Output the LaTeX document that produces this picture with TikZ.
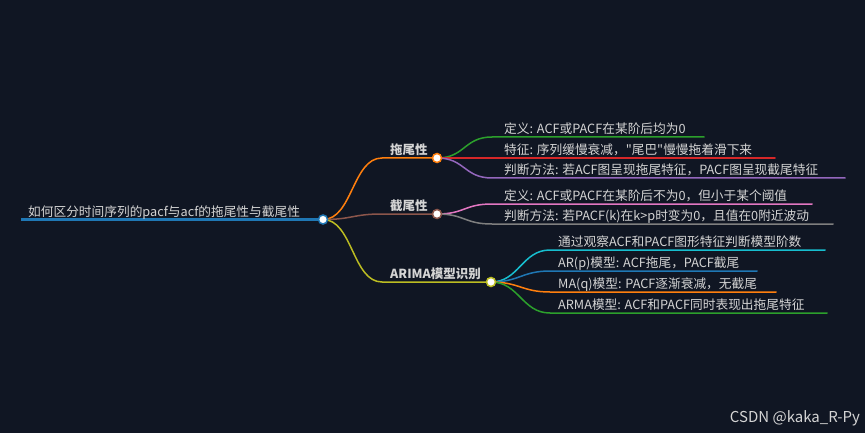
\documentclass[tikz,border=0pt]{standalone}
\usepackage{fontspec}
\setmainfont{Noto Sans CJK SC}[Ligatures=TeXOff]
\definecolor{bgnavy}{RGB}{16,22,35}
\definecolor{mtext}{RGB}{212,212,212}
\definecolor{cblue}{RGB}{31,119,180}
\definecolor{corange}{RGB}{255,127,14}
\definecolor{cgreen}{RGB}{44,160,44}
\definecolor{cred}{RGB}{214,39,40}
\definecolor{cpurple}{RGB}{148,103,189}
\definecolor{cbrown}{RGB}{140,86,75}
\definecolor{cpink}{RGB}{227,119,194}
\definecolor{cgray}{RGB}{127,127,127}
\definecolor{colive}{RGB}{188,189,34}
\definecolor{ccyan}{RGB}{23,190,207}
\usetikzlibrary{calc}

\begin{document}
\begin{tikzpicture}[x=1pt, y=-1pt,
  link/.style={line width=1.5pt, line cap=round},
  dot/.style={circle, draw=#1, fill=white, line width=1.5pt, minimum size=9pt, inner sep=0pt},
  ltext/.style={anchor=base west, inner sep=0pt, text=mtext, font=\fontsize{12.7}{15}\selectfont},
  htext/.style={ltext, font=\fontsize{12.5}{15}\selectfont\bfseries}
]
  \useasboundingbox[fill=bgnavy] (0,0) rectangle (865,433);

  % branch points
  \coordinate (root0) at (21,219.5);
  \coordinate (root) at (323,219.5);
  \coordinate (tail0) at (382,158);   \coordinate (tail) at (437,158);
  \coordinate (cut0) at (382,214);    \coordinate (cut) at (437,214);
  \coordinate (arima0) at (382,282);  \coordinate (arima) at (491,282);

  % leaves: start and end of each underline
  \coordinate (t1a) at (492,137); \coordinate (t1b) at (704,137);
  \coordinate (t2a) at (492,158); \coordinate (t2b) at (775,158);
  \coordinate (t3a) at (492,178); \coordinate (t3b) at (845,178);
  \coordinate (c1a) at (492,204); \coordinate (c1b) at (812,204);
  \coordinate (c2a) at (492,224); \coordinate (c2b) at (833,224);
  \coordinate (a1a) at (550,250); \coordinate (a1b) at (825,250);
  \coordinate (a2a) at (550,271); \coordinate (a2b) at (757,271);
  \coordinate (a3a) at (550,292); \coordinate (a3b) at (776,292);
  \coordinate (a4a) at (550,313); \coordinate (a4b) at (827,313);

  % root
  \draw[cblue, line width=3pt] (root0) -- (root);
  \node[ltext] (roottxt) at ($(root0)+(7,-3)$) {如何区分时间序列的pacf与acf的拖尾性与截尾性};

  % level 1
  \foreach \a/\b/\c in {tail0/tail/corange, cut0/cut/cbrown, arima0/arima/colive}{
    \draw[link, \c] (root) .. controls +(29.5,0) and +(-29.5,0) .. (\a) -- (\b);
  }
  \node[htext] (tailtxt) at ($(tail0)+(8,-4)$) {拖尾性};
  \node[htext] (cuttxt) at ($(cut0)+(8,-4)$) {截尾性};
  \node[htext] (arimatxt) at ($(arima0)+(8,-4)$) {ARIMA模型识别};

  % level 2
  \foreach \p/\a/\b/\c in {tail/t1a/t1b/cgreen, tail/t2a/t2b/cred, tail/t3a/t3b/cpurple,
                           cut/c1a/c1b/cpink, cut/c2a/c2b/cgray,
                           arima/a1a/a1b/ccyan, arima/a2a/a2b/cblue, arima/a3a/a3b/corange, arima/a4a/a4b/cgreen}{
    \draw[link, \c] (\p) .. controls +(28,0) and +(-28,0) .. (\a) -- (\b);
  }
  \node[ltext] (t1txt) at ($(t1a)+(12,-3.5)$) {定义: ACF或PACF在某阶后均为0};
  \node[ltext] (t2txt) at ($(t2a)+(12,-3.5)$) {特征: 序列缓慢衰减，"尾巴"慢慢拖着滑下来};
  \node[ltext] (t3txt) at ($(t3a)+(12,-3.5)$) {判断方法: 若ACF图呈现拖尾特征，PACF图呈现截尾特征};
  \node[ltext] (c1txt) at ($(c1a)+(12,-3.5)$) {定义: ACF或PACF在某阶后不为0，但小于某个阈值};
  \node[ltext] (c2txt) at ($(c2a)+(12,-3.5)$) {判断方法: 若PACF(k)在k>p时变为0，且值在0附近波动};
  \node[ltext] (a1txt) at ($(a1a)+(8,-3.5)$) {通过观察ACF和PACF图形特征判断模型阶数};
  \node[ltext] (a2txt) at ($(a2a)+(8,-3.5)$) {AR(p)模型: ACF拖尾，PACF截尾};
  \node[ltext] (a3txt) at ($(a3a)+(8,-3.5)$) {MA(q)模型: PACF逐渐衰减，无截尾};
  \node[ltext] (a4txt) at ($(a4a)+(8,-3.5)$) {ARMA模型: ACF和PACF同时表现出拖尾特征};

  % dots on top
  \node[dot=cblue] (rootdot) at (root) {};
  \node[dot=corange] (taildot) at (tail) {};
  \node[dot=cbrown] (cutdot) at (cut) {};
  \node[dot=colive] (arimadot) at (arima) {};

  \node[anchor=east, inner sep=0pt, text=mtext, font=\fontsize{15}{17}\selectfont] (mark) at (860,418) {CSDN @kaka\_R-Py};
\end{tikzpicture}
\end{document}
